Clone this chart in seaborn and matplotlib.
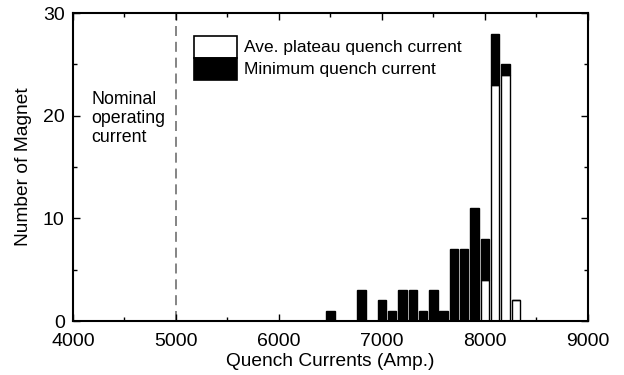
import pandas as pd
import seaborn as sns
import matplotlib.pyplot as plt
from matplotlib.patches import Patch
from matplotlib.ticker import MultipleLocator

# Bin centres (Amp.) and counts
min_currents = [6500, 6800, 7000, 7100, 7200, 7300, 7400, 7500, 7600,
                7700, 7800, 7900, 8000, 8100, 8200]
min_counts = [1, 3, 2, 1, 3, 3, 1, 3, 1, 7, 7, 11, 4, 5, 1]

ave_currents = [8000, 8100, 8200, 8300]
ave_counts = [4, 23, 24, 2]

ave_label = "Ave. plateau quench current"
min_label = "Minimum quench current"

df = pd.concat([
    pd.DataFrame({"current": min_currents, "count": min_counts, "kind": min_label}),
    pd.DataFrame({"current": ave_currents, "count": ave_counts, "kind": ave_label}),
])

sns.set_style("ticks", {"text.color": "black", "axes.labelcolor": "black",
                        "xtick.color": "black", "ytick.color": "black",
                        "axes.edgecolor": "black"})
plt.rcParams["font.family"] = ["Liberation Sans", "DejaVu Sans"]

fig = plt.figure(figsize=(6.24, 3.75), dpi=100)
ax = fig.add_axes([0.117, 0.144, 0.825, 0.821])

sns.histplot(
    data=df,
    x="current",
    weights="count",
    hue="kind",
    hue_order=[min_label, ave_label],
    palette={min_label: "black", ave_label: "white"},
    multiple="stack",
    binwidth=100,
    binrange=(6450, 8350),
    shrink=0.82,
    edgecolor="black",
    linewidth=1,
    alpha=1,
    legend=False,
    ax=ax,
)

# nominal operating current
ax.axvline(5000, color="#707070", lw=1.2, ls=(0, (6, 3.5)), zorder=0)
ax.text(4180, 22.4, "Nominal\noperating\ncurrent", fontsize=12.8,
        va="top", ha="left", linespacing=1.15)

ax.set_xlim(4000, 9000)
ax.set_ylim(0, 30)
ax.xaxis.set_major_locator(MultipleLocator(1000))
ax.xaxis.set_minor_locator(MultipleLocator(500))
ax.yaxis.set_major_locator(MultipleLocator(10))
ax.yaxis.set_minor_locator(MultipleLocator(5))
ax.tick_params(which="both", direction="in", top=True, right=True, width=1)
ax.tick_params(which="major", length=5, labelsize=14)
ax.tick_params(which="minor", length=3)
ax.tick_params(axis="x", which="major", pad=8.5)
ax.tick_params(axis="y", which="major", pad=6)
for s in ax.spines.values():
    s.set_linewidth(1.5)

ax.set_xlabel("Quench Currents (Amp.)", fontsize=13.8, labelpad=2)
ax.set_ylabel("Number of Magnet", fontsize=13.8, labelpad=8)

handles = [Patch(facecolor="white", edgecolor="black", linewidth=1.2),
           Patch(facecolor="black", edgecolor="black", linewidth=1.2)]
ax.legend(handles, [ave_label, min_label], loc="upper left",
          bbox_to_anchor=(0.235, 0.927), borderaxespad=0, borderpad=0,
          frameon=False, fontsize=12.5, handlelength=2.45, handleheight=1.57,
          labelspacing=0, handletextpad=0.45)

fig.savefig("out.png", dpi=100)
